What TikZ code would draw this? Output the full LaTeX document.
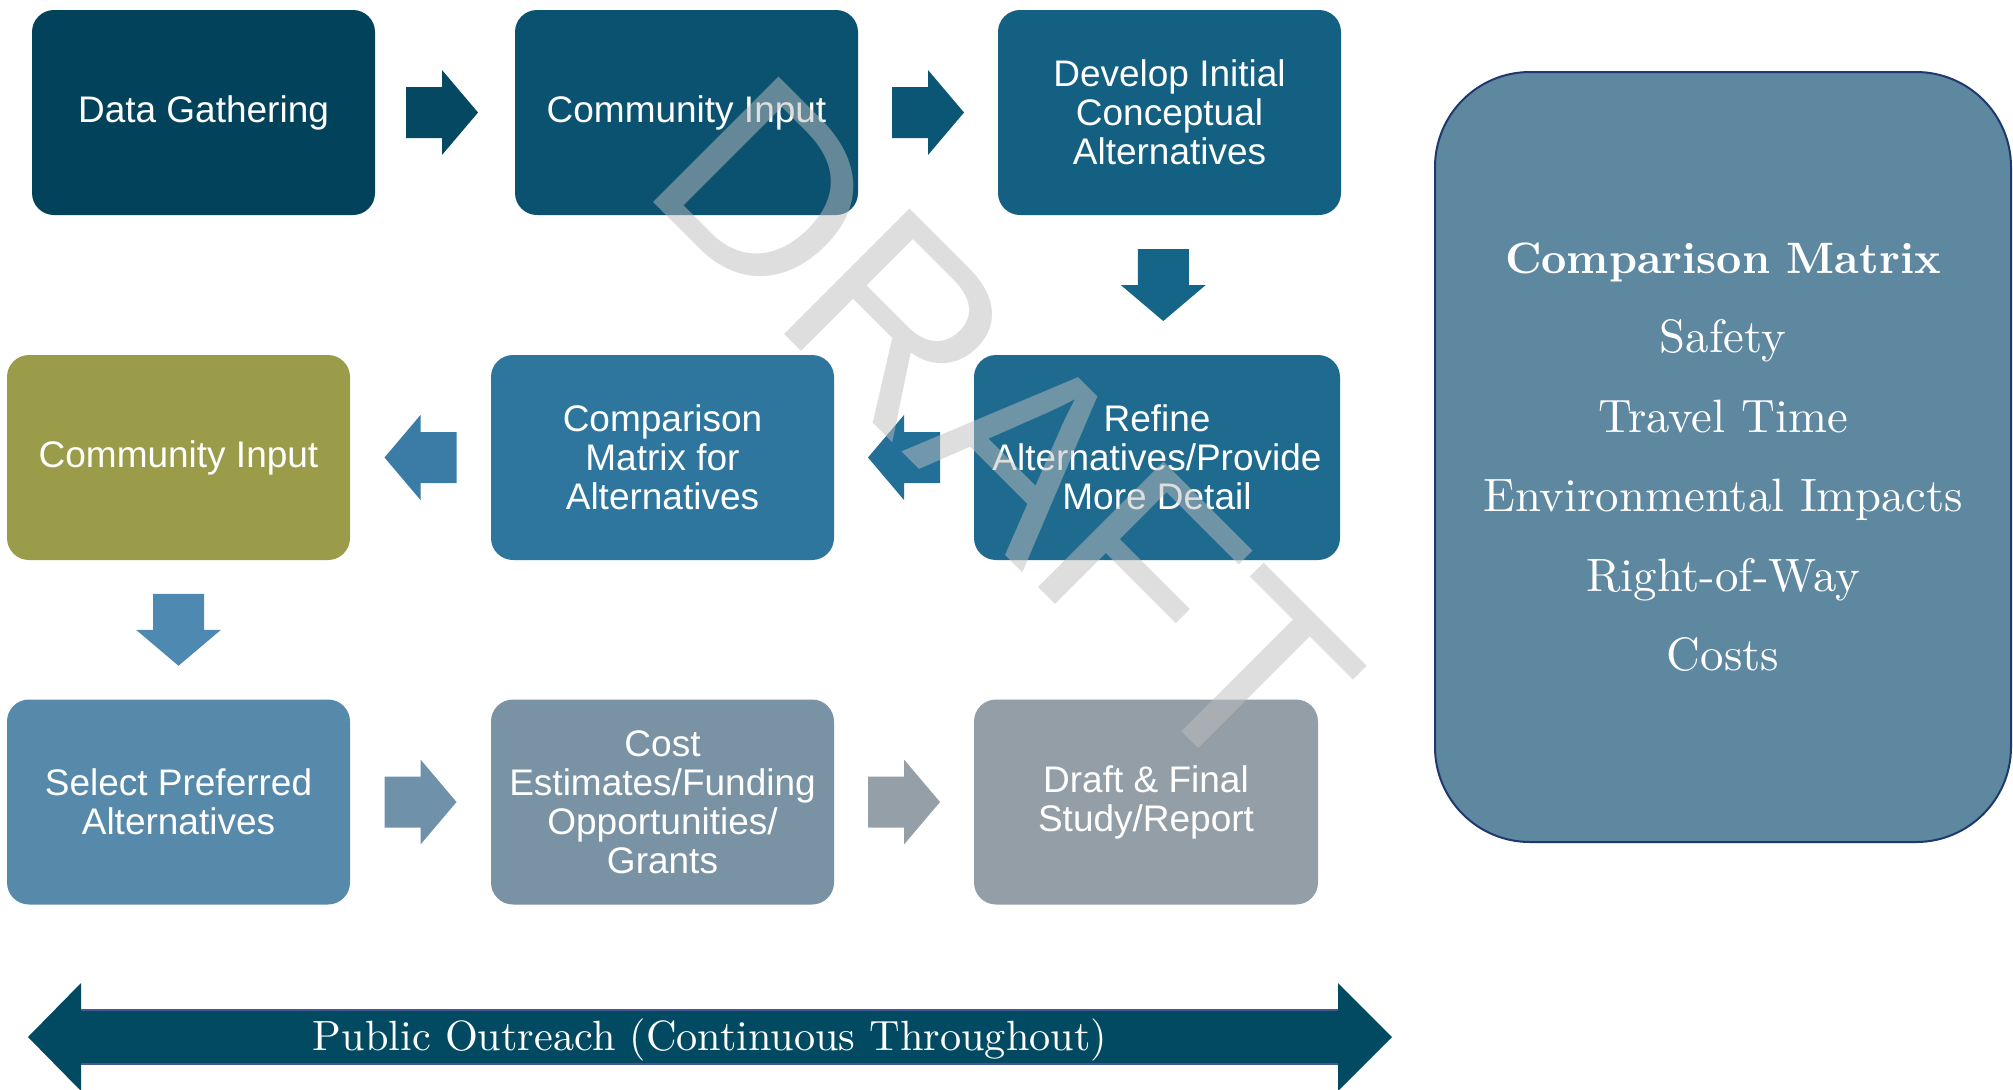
\documentclass[tikz,border=0pt]{standalone}
\usepackage{fontspec}
\newfontfamily\arialf{Liberation Sans}
\newfontfamily\lmten{lmroman10-regular.otf}[BoldFont=lmroman10-bold.otf]
\usetikzlibrary{calc}
\definecolor{cDG}{RGB}{2,67,91}
\definecolor{cCI}{RGB}{10,82,112}
\definecolor{cDev}{RGB}{20,96,130}
\definecolor{cRef}{RGB}{31,106,143}
\definecolor{cCM}{RGB}{46,118,158}
\definecolor{cGreen}{RGB}{154,156,74}
\definecolor{cSel}{RGB}{87,137,170}
\definecolor{cCost}{RGB}{121,147,165}
\definecolor{cDraft}{RGB}{148,158,167}
\definecolor{aR1}{RGB}{5,72,98}
\definecolor{aR2}{RGB}{12,86,117}
\definecolor{aD1}{RGB}{21,101,136}
\definecolor{aL2}{RGB}{34,112,152}
\definecolor{aL1}{RGB}{58,124,165}
\definecolor{aD2}{RGB}{78,137,178}
\definecolor{aB1}{RGB}{112,145,170}
\definecolor{aB2}{RGB}{148,159,168}
\definecolor{outreachc}{RGB}{2,74,98}
\definecolor{outlinec}{RGB}{70,88,145}
\definecolor{mfill}{RGB}{94,135,160}
\definecolor{mborder}{RGB}{31,56,110}
\definecolor{wmgray}{RGB}{190,190,190}
\tikzset{
  stepbox/.style={rectangle, rounded corners=11pt, minimum width=171.5pt,
    minimum height=102.5pt, inner sep=0pt, text=white, align=center,
    font=\arialf\fontsize{18.5}{19.5}\selectfont},
  rarrow/.pic={\path[pic actions] (-36,-25.5) -- (0,-25.5) -- (0,-42.5) -- (36,0)
    -- (0,42.5) -- (0,25.5) -- (-36,25.5) -- cycle;},
  larrow/.pic={\path[pic actions] (36,-25.5) -- (0,-25.5) -- (0,-42.5) -- (-36,0)
    -- (0,42.5) -- (0,25.5) -- (36,25.5) -- cycle;},
  darrow/.pic={\path[pic actions] (-25.5,-36) -- (-25.5,0) -- (-42.5,0) -- (0,36)
    -- (42.5,0) -- (25.5,0) -- (25.5,-36) -- cycle;},
}
\begin{document}
\begin{tikzpicture}[x=0.5pt,y=-0.5pt]
\useasboundingbox (0,0) rectangle (2013,1089);
\clip (0,0) rectangle (2013,1089);
\fill[white] (0,0) rectangle (2013,1089);

% row 1
\node[stepbox, fill=cDG] (b1) at (203.5,112.5) {Data Gathering};
\node[stepbox, fill=cCI] (b2) at (686.5,112.5) {Community Input};
\node[stepbox, fill=cDev] (b3) at (1169.5,112.5) {Develop Initial\\Conceptual\\Alternatives};
% row 2
\node[stepbox, fill=cGreen] (g) at (178.5,457.5) {Community Input};
\node[stepbox, fill=cCM] (cm) at (662.5,457.5) {Comparison\\Matrix for\\Alternatives};
\node[stepbox, fill=cRef, minimum width=183pt] (rf) at (1157,457.5) {Refine\\Alternatives/Provide\\More Detail};
% row 3
\node[stepbox, fill=cSel] (sp) at (178.5,802) {Select Preferred\\Alternatives};
\node[stepbox, fill=cCost] (ce) at (662.5,802) {Cost\\Estimates/Funding\\Opportunities/\\Grants};
\node[stepbox, fill=cDraft, minimum width=172pt] (df) at (1146,802) {Draft \& Final\\Study/Report};

% block arrows
\pic[fill=aR1] at ($(b1.east)!0.5!(b2.west)+(-3,0)$) {rarrow};
\pic[fill=aR2] at ($(b2.east)!0.5!(b3.west)$) {rarrow};
\pic[fill=aD1] at ($(b3.south)!0.5!(rf.north)$) {darrow};
\pic[fill=aL2] at ($(rf.west)!0.5!(cm.east)$) {larrow};
\pic[fill=aL1] at ($(cm.west)!0.5!(g.east)$) {larrow};
\pic[fill=aD2] at ($(g.south)!0.5!(sp.north)$) {darrow};
\pic[fill=aB1] at ($(sp.east)!0.5!(ce.west)$) {rarrow};
\pic[fill=aB2] at ($(ce.east)!0.5!(df.west)$) {rarrow};

% comparison matrix panel
\node[draw=mborder, line width=1pt, fill=mfill, rounded corners=47.5pt,
  minimum width=288pt, minimum height=385pt, inner sep=0pt, text=white,
  align=center, font=\lmten\fontsize{23.4}{39.75}\selectfont] (cmx) at (1723,457)
  {{\bfseries\fontsize{22}{39.75}\selectfont Comparison Matrix}\\
   Safety\\ Travel Time\\ Environmental Impacts\\ Right-of-Way\\ Costs};

% public outreach double arrow
\coordinate (pl) at (28,1037);
\coordinate (pr) at (1392,1037);
\fill[outreachc] (pl) -- (81,983) -- (81,1010) -- (1338,1010) -- (1338,983)
  -- (pr) -- (1338,1091) -- (1338,1064) -- (81,1064) -- (81,1091) -- cycle;
\draw[outlinec, line width=0.6pt] (81,1010) -- (1338,1010) (81,1064) -- (1338,1064);
\node[text=white, anchor=base, inner sep=0pt, font=\lmten\fontsize{21.15}{25}\selectfont]
  (pub) at (710,1050) {Public Outreach (Continuous Throughout)};

% watermark
\node[font=\arialf\fontsize{129}{130}\selectfont, text=wmgray, text opacity=0.5,
  rotate=-45, inner sep=0pt] (wm) at (1005,429) {DRAFT};
\end{tikzpicture}
\end{document}
